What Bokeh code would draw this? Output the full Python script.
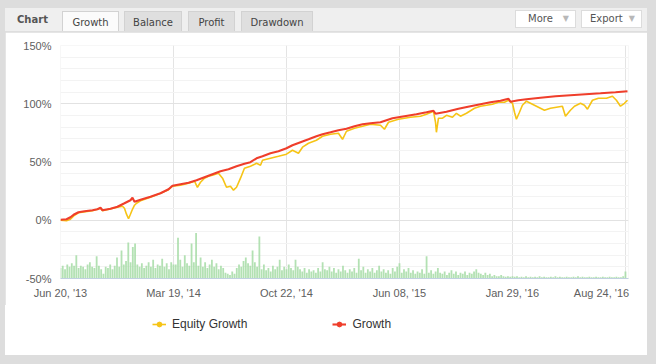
from bokeh.plotting import figure
from bokeh.models import (ColumnDataSource, FixedTicker, Range1d, Legend, LegendItem, Div)
from bokeh.layouts import column
from bokeh.embed import file_html
from bokeh.resources import INLINE

# ---------------- data ----------------
grid_pos = [0, 100, 200, 300, 400, 500]
label_pos = [0, 100, 200, 300, 400, 478.8]
tick_labels = ["Jun 20, '13", "Mar 19, '14", "Oct 22, '14", "Jun 08, '15", "Jan 29, '16", "Aug 24, '16"]
y_ticks = [-50, 0, 50, 100, 150]
y_labels = ["-50%", "0%", "50%", "100%", "150%"]
y_minor = [-40, -30, -20, -10, 10, 20, 30, 40, 60, 70, 80, 90, 110, 120, 130, 140]
series_names = ["Equity Growth", "Growth"]

growth_x = [0, 5.3, 8.8, 12.4, 15.9, 21.2, 28.3, 32.7, 35.4, 37.2, 44.2, 50.4, 56.6, 61.9, 63.7,
            65.5, 70.8, 79.6, 88.5, 95.6, 99.1, 106.2, 113.3, 120.4, 127.4, 134.5, 141.6, 148.7,
            155.8, 162.8, 168.1, 173.5, 178.8, 185.8, 192.9, 200, 205.3, 212.4, 219.5, 226.5,
            231.9, 239, 246, 253.1, 260.2, 267.3, 274.3, 283.2, 293.8, 304.4, 315, 323.9, 330.1,
            331.9, 341.6, 352.2, 362.8, 371.7, 380.5, 389.4, 394.7, 396.5, 398.2, 405.3, 412.4,
            424.8, 438.1, 451.3, 464.6, 477.9, 491.2, 501.8]
growth_y = [0.4, 0.9, 2.6, 5.2, 6.9, 7.7, 8.6, 9.4, 10.7, 8.6, 9.9, 11.6, 14.6, 17.2, 19.3,
            15.9, 17.6, 20.2, 23.2, 26.6, 29.6, 30.9, 32.2, 34.3, 36.9, 39.5, 42.1, 43.8,
            46.4, 48.5, 49.8, 53.2, 54.9, 57.5, 59.2, 61.8, 64.4, 67.0, 69.5, 72.1,
            73.8, 75.5, 77.3, 78.5, 80.7, 82.4, 83.3, 84.1, 87.6, 89.3, 91.0, 92.7, 94.0,
            91.4, 93.1, 95.7, 97.9, 99.6, 101.3, 102.6, 103.9, 104.3, 101.7, 103.0, 103.9,
            105.2, 106.4, 107.3, 108.2, 109.0, 109.9, 110.7]

equity_x = [0, 5.3, 8.8, 12.4, 15.9, 28.3, 35.4, 37.2, 50.4, 54.9, 56.6, 58.4, 60.2, 61.9, 63.7,
            65.5, 67.3, 70.8, 79.6, 88.5, 95.6, 99.1, 106.2, 113.3, 118.6, 121.2, 123.9, 127.4,
            131, 134.5, 139.8, 143.4, 146.9, 150.4, 153.1, 155.8, 159.3, 162.8, 168.1, 173.5,
            177, 178.8, 185.8, 192.9, 200, 205.3, 210.6, 214.2, 219.5, 226.5, 231.9, 239, 246,
            249.6, 253.1, 260.2, 267.3, 274.3, 283.2, 286.7, 290.3, 299.1, 309.7, 318.6, 323.9,
            330.1, 331.9, 332.7, 334.5, 338.1, 341.6, 346.9, 350.4, 354, 359.3, 366.4, 371.7,
            377, 382.3, 387.6, 392.9, 396.5, 400, 401.8, 403.5, 406.2, 408.8, 412.4, 417.7, 423,
            428.3, 433.6, 438.9, 444.2, 446.9, 451.3, 454.9, 460.2, 463.7, 466.4, 470.8, 476.1,
            483.2, 488.5, 492, 495.6, 499.1, 501.8]
equity_y = [0, -0.4, 0.9, 4.3, 6.4, 8.2, 10.3, 8.2, 11.2, 12.0, 10.3, 5.2, 1.3, 5.2, 9.4,
            12.9, 14.6, 16.7, 19.7, 23.2, 26.2, 29.2, 30.0, 31.8, 33.5, 28.3, 32.6, 36.1,
            37.8, 38.6, 40.3, 36.1, 28.3, 29.2, 25.8, 28.3, 36.1, 44.6, 46.4, 48.9,
            47.2, 51.5, 53.2, 54.9, 56.7, 60.1, 57.5, 62.7, 66.1, 68.7, 72.1, 73.8, 74.7,
            69.5, 76.4, 79.0, 80.7, 82.4, 81.6, 78.1, 84.1, 86.7, 88.4, 89.3, 91.0,
            93.6, 84.1, 75.5, 87.6, 87.6, 90.1, 88.4, 91.8, 89.3, 91.8, 96.1, 97.9,
            98.7, 99.6, 101.3, 101.3, 103.0, 100.4, 92.7, 86.7, 92.7, 98.7, 102.2, 99.6, 97.0,
            94.4, 96.1, 97.0, 97.9, 89.3, 94.4, 97.9, 100.4, 98.7, 95.3, 103.0, 104.7,
            104.7, 106.4, 103.0, 97.9, 100.4, 103.0]

bar_x = list(range(0, 501, 2))
bar_h = [9, 11, 8, 12, 10, 13, 11, 20, 9, 11, 10, 8, 12, 14, 10, 9, 19, 11, 8,
         4, 10, 9, 12, 8, 11, 18, 10, 24, 12, 15, 31, 14, 27, 30, 12, 10, 13, 9, 11, 14, 10,
         16, 9, 12, 11, 17, 10, 13, 8, 14, 12,
         12, 35, 16, 10, 20, 13, 11, 30, 14, 39, 11, 18, 10, 14, 9, 12, 16, 10, 13, 8, 11, 9,
         5, 4, 3, 6, 4, 9, 12, 10, 15, 18, 13, 11, 24, 14, 10, 36,
         8, 12, 7, 9, 6, 11, 8, 10, 16, 7, 10, 8, 12, 9, 7, 16, 10, 8, 6, 9, 5, 8, 6, 7, 5, 9,
         6, 14, 8, 7, 10, 6, 9, 5, 8, 6, 11,
         7, 5, 8, 6, 9, 5, 17, 7, 10, 5, 8, 6, 9, 5, 7, 11, 6, 8, 5, 7, 4, 9, 6, 10, 13, 5, 8,
         6, 9, 5, 7, 4, 6, 5, 8, 4, 19, 5, 7, 4, 6, 9, 5,
         4, 6, 3, 5, 7, 4, 6, 3, 5, 4, 6, 3, 5, 4, 6, 8, 5, 4, 3, 5, 3, 4, 2, 3, 2, 2, 3, 2,
         1.5, 2, 1.5, 2,
         1.5, 2, 1, 1.5, 1, 2, 1, 1.5, 1, 1.5, 1, 2, 1, 1.5, 1, 1, 1.5, 1, 2, 1, 1.5, 1, 1,
         1.5, 1, 1, 1.5, 1, 2, 1, 1.5, 1, 1, 1.5, 1, 1, 1.5, 1, 1, 1.5, 1, 1, 1.5, 1, 1, 1.5,
         1, 1, 2, 6]

# ---------------- styles ----------------
FONT = "Liberation Sans"
TICK_COLOR = "#606060"
RED = "#ef3e2b"
YELLOW = "#f6c416"
GREEN = "#a6dca6"

W = 642
H_MAIN = 273
H_LEG = 50

p = figure(width=W, height=H_MAIN, output_backend="svg", toolbar_location=None,
           x_range=Range1d(0, 502.7), y_range=Range1d(-50, 150),
           min_border_left=55, min_border_right=19, min_border_top=13, min_border_bottom=27)
p.margin = (0, 9, 0, 5)
p.outline_line_color = None
p.background_fill_color = "white"
p.border_fill_color = "white"

p.extra_y_ranges = {"vol": Range1d(0, 200)}
bars = ColumnDataSource(dict(x=bar_x, h=bar_h))
p.vbar(x="x", top="h", bottom=0, width=1.6, source=bars, y_range_name="vol",
       fill_color=GREEN, fill_alpha=0.85, line_color=None)

eq_src = ColumnDataSource(dict(x=equity_x, y=equity_y))
gr_src = ColumnDataSource(dict(x=growth_x, y=growth_y))
p.line("x", "y", source=eq_src, line_color=YELLOW, line_width=1.6)
p.line("x", "y", source=gr_src, line_color=RED, line_width=2.1)

# axes
xa = p.xaxis[0]
xa.ticker = FixedTicker(ticks=label_pos)
xa.major_label_overrides = dict(zip(label_pos, tick_labels))
xa.axis_line_color = "#c0d0e0"
xa.major_tick_line_color = None
xa.minor_tick_line_color = None
xa.major_tick_out = 0
xa.major_label_standoff = 8
xa.major_label_text_font = FONT
xa.major_label_text_font_size = "11px"
xa.major_label_text_color = TICK_COLOR

ya = p.yaxis[0]
ya.ticker = FixedTicker(ticks=y_ticks, minor_ticks=y_minor)
ya.major_label_overrides = dict(zip(y_ticks, y_labels))
ya.axis_line_color = None
ya.major_tick_line_color = None
ya.minor_tick_line_color = None
ya.major_tick_out = 0
ya.major_label_standoff = 5
ya.major_label_text_font = FONT
ya.major_label_text_font_size = "11px"
ya.major_label_text_color = TICK_COLOR

p.xgrid.ticker = FixedTicker(ticks=grid_pos)
p.xgrid.grid_line_color = "#e4e4e4"
p.ygrid.grid_line_color = "#e2e2e2"
p.ygrid.minor_grid_line_color = "#f3f3f3"

# ---------------- legend strip ----------------
# same series drawn again in a strip whose ranges lie outside the data,
# only so that the legend can show their line+marker symbols
lf = figure(width=W, height=H_LEG, output_backend="svg", toolbar_location=None,
            x_range=Range1d(-20, -19), y_range=Range1d(-300, -299),
            x_axis_location=None, y_axis_location=None,
            min_border_left=55, min_border_right=19, min_border_top=0, min_border_bottom=0)
lf.margin = (0, 9, 9, 5)
lf.grid.visible = False
lf.outline_line_color = None
lf.border_fill_color = None
lf.background_fill_color = None
lf.styles = {"background-color": "white"}
leg_eq_line = lf.line("x", "y", source=eq_src, line_color=YELLOW, line_width=1.6)
leg_eq_dot = lf.scatter("x", "y", source=eq_src, marker="circle", size=4, color=YELLOW)
leg_gr_line = lf.line("x", "y", source=gr_src, line_color=RED, line_width=2.1)
leg_gr_dot = lf.scatter("x", "y", source=gr_src, marker="circle", size=4, color=RED)
legend = Legend(items=[LegendItem(label=series_names[0], renderers=[leg_eq_line, leg_eq_dot]),
                       LegendItem(label=series_names[1], renderers=[leg_gr_line, leg_gr_dot])],
                location=(92, 24), orientation="horizontal",
                glyph_width=14, glyph_height=12, label_height=12, label_standoff=6,
                spacing=85, padding=0, margin=0,
                background_fill_alpha=0, border_line_color=None,
                label_text_font=FONT, label_text_font_size="12px", label_text_color="#333333")
lf.add_layout(legend)

# ---------------- header with tabs ----------------
tab = ("position:absolute;top:3px;height:21px;line-height:21px;box-sizing:border-box;"
       "text-align:center;border:1px solid #d2d2d2;border-bottom:none;")
btn = ("position:absolute;top:2px;width:61px;height:18px;box-sizing:border-box;line-height:16px;"
       "background:#ffffff;border:1px solid #dcdcdc;color:#555;")
arrow = "position:absolute;right:6px;top:0px;font-size:8px;color:#b8b8b8;"
header_html = f"""
<div style="position:relative;width:{W}px;height:24px;background:#efefef;border-bottom:1px solid #dedede;
box-sizing:border-box;font-family:'DejaVu Sans';font-size:10px;color:#444;overflow:hidden;">
  <span style="position:absolute;left:12px;top:5px;font-weight:bold;color:#555;">Chart</span>
  <div style="{tab}left:57px;width:57px;background:#fbfbfb;">Growth</div>
  <div style="{tab}left:119px;width:58px;background:#dfdfdf;">Balance</div>
  <div style="{tab}left:183px;width:47px;background:#dfdfdf;">Profit</div>
  <div style="{tab}left:236px;width:72px;background:#dfdfdf;">Drawdown</div>
  <div style="{btn}left:510px;"><span style="position:absolute;left:12px;">More</span><span style="{arrow}">&#9660;</span></div>
  <div style="{btn}left:576px;"><span style="position:absolute;left:8px;">Export</span><span style="{arrow}">&#9660;</span></div>
</div>
"""
header = Div(text=header_html, width=W, height=24, margin=(8, 9, 0, 5))

layout = column(header, p, lf, styles={"background-color": "#dddddd"})
open("out.html", "w").write(file_html(layout, INLINE))
